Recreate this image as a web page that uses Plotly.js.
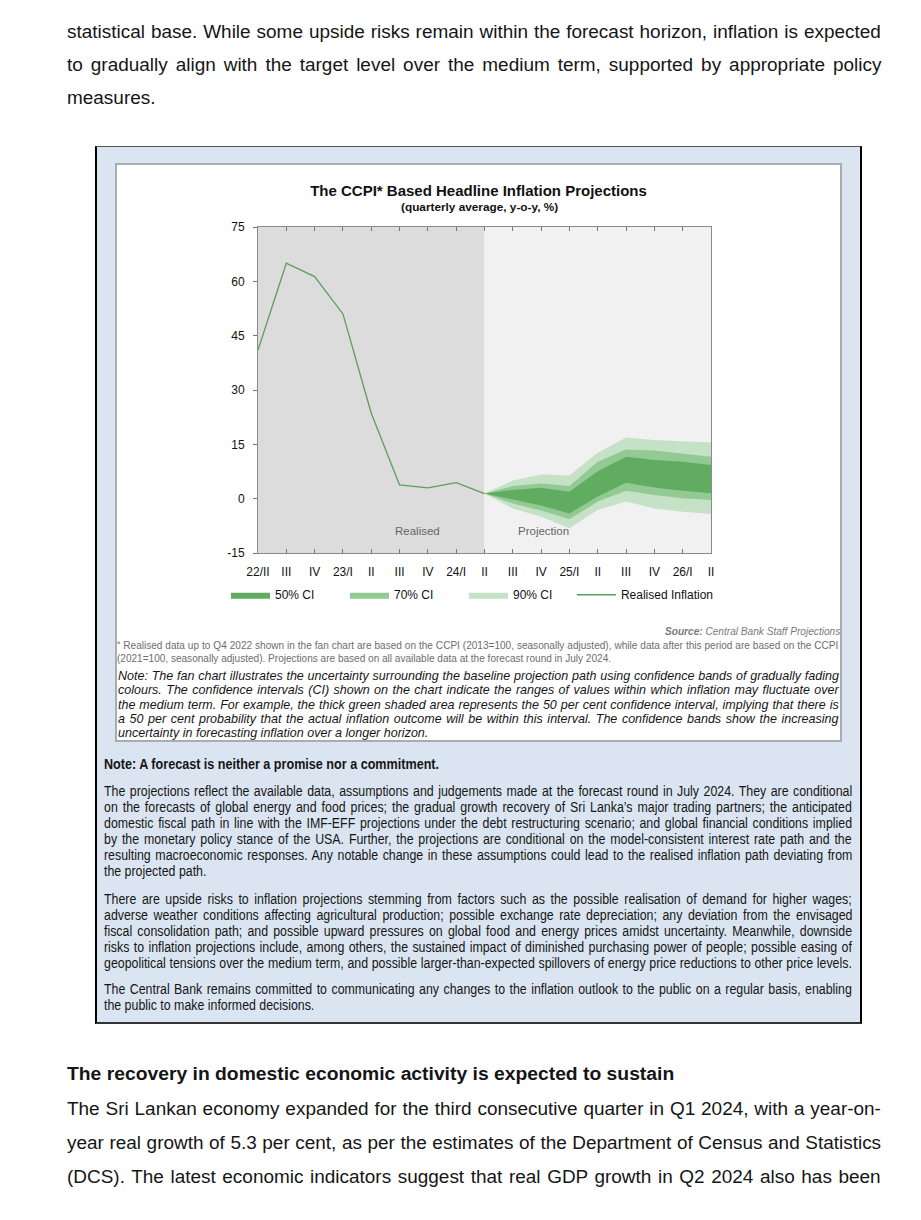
<!DOCTYPE html>
<html>
<head>
<meta charset="utf-8">
<script src="https://cdn.plot.ly/plotly-3.0.1.min.js"></script>
<style>
  html, body { margin:0; padding:0; background:#fff; }
  body { width:921px; height:1220px; position:relative; overflow:hidden; font-family:"Liberation Sans", Arial, sans-serif; color:#111; }
  .ln { position:absolute; white-space:nowrap; transform-origin:0 50%; }
  .body17 { font-size:17px; line-height:22px; color:#151515; }
  .nar { font-size:12.5px; line-height:15px; color:#151515; }
  .foot { font-size:9.5px; line-height:12px; color:#6d6d6d; }
  .note { font-size:11.5px; line-height:14px; font-style:italic; color:#161616; }
  #box { position:absolute; left:95px; top:146px; width:767px; height:878px; box-sizing:border-box;
         background:#dbe5f1; border-left:2px solid #000; border-right:2px solid #000; border-top:1px solid #555; border-bottom:2px solid #333; }
  #panel { position:absolute; left:115px; top:163px; width:727px; height:579px; box-sizing:border-box;
           background:#fff; border:2px solid #a9adb2; }
  #chart { position:absolute; left:115px; top:163px; width:727px; height:460px; }
</style>
</head>
<body>
<!-- top body text -->
<div class="ln body17" data-g="body" data-x0="67" data-x1="881" data-y="32" data-m="j">statistical base. While some upside risks remain within the forecast horizon, inflation is expected</div>
<div class="ln body17" data-g="body" data-x0="67" data-x1="881" data-y="65" data-m="j">to gradually align with the target level over the medium term, supported by appropriate policy</div>
<div class="ln body17" data-g="body" data-x0="67" data-x1="157" data-y="98" data-m="n">measures.</div>

<div id="box"></div>
<div id="panel"></div>
<div id="chart"></div>

<!-- source & footnote -->
<div class="ln foot" data-g="foot" data-x0="665" data-x1="840" data-y="632" data-m="f" style="font-style:italic;color:#7a7a7a;"><b>Source:</b> Central Bank Staff Projections</div>
<div class="ln foot" data-g="foot" data-x0="117" data-x1="838" data-y="646" data-m="j"><span style="font-size:85%;position:relative;top:-2px;">*</span> Realised data up to Q4 2022 shown in the fan chart are based on the CCPI (2013=100, seasonally adjusted), while data after this period are based on the CCPI</div>
<div class="ln foot" data-g="foot" data-x0="117" data-x1="614" data-y="659" data-m="n">(2021=100, seasonally adjusted). Projections are based on all available data at the forecast round in July 2024.</div>

<!-- italic note -->
<div class="ln note" data-g="note" data-x0="118" data-x1="839" data-y="676" data-m="j">Note: The fan chart illustrates the uncertainty surrounding the baseline projection path using confidence bands of gradually fading</div>
<div class="ln note" data-g="note" data-x0="118" data-x1="839" data-y="690" data-m="j">colours. The confidence intervals (CI) shown on the chart indicate the ranges of values within which inflation may fluctuate over</div>
<div class="ln note" data-g="note" data-x0="118" data-x1="839" data-y="705" data-m="j">the medium term. For example, the thick green shaded area represents the 50 per cent confidence interval, implying that there is</div>
<div class="ln note" data-g="note" data-x0="118" data-x1="839" data-y="719" data-m="j">a 50 per cent probability that the actual inflation outcome will be within this interval. The confidence bands show the increasing</div>
<div class="ln note" data-g="note" data-x0="118" data-x1="430" data-y="733" data-m="n">uncertainty in forecasting inflation over a longer horizon.</div>

<!-- blue box text -->
<div class="ln nar" data-g="blue" data-x0="104" data-x1="439" data-y="763" data-m="f" style="font-weight:bold;">Note: A forecast is neither a promise nor a commitment.</div>

<div class="ln nar" data-g="blue" data-x0="104" data-x1="852" data-y="790" data-m="j">The projections reflect the available data, assumptions and judgements made at the forecast round in July 2024. They are conditional</div>
<div class="ln nar" data-g="blue" data-x0="104" data-x1="852" data-y="806" data-m="j">on the forecasts of global energy and food prices; the gradual growth recovery of Sri Lanka’s major trading partners; the anticipated</div>
<div class="ln nar" data-g="blue" data-x0="104" data-x1="852" data-y="822" data-m="j">domestic fiscal path in line with the IMF-EFF projections under the debt restructuring scenario; and global financial conditions implied</div>
<div class="ln nar" data-g="blue" data-x0="104" data-x1="852" data-y="838" data-m="j">by the monetary policy stance of the USA. Further, the projections are conditional on the model-consistent interest rate path and the</div>
<div class="ln nar" data-g="blue" data-x0="104" data-x1="852" data-y="854" data-m="j">resulting macroeconomic responses. Any notable change in these assumptions could lead to the realised inflation path deviating from</div>
<div class="ln nar" data-g="blue" data-x0="104" data-x1="196" data-y="870" data-m="n">the projected path.</div>

<div class="ln nar" data-g="blue" data-x0="104" data-x1="852" data-y="898" data-m="j">There are upside risks to inflation projections stemming from factors such as the possible realisation of demand for higher wages;</div>
<div class="ln nar" data-g="blue" data-x0="104" data-x1="852" data-y="914" data-m="j">adverse weather conditions affecting agricultural production; possible exchange rate depreciation; any deviation from the envisaged</div>
<div class="ln nar" data-g="blue" data-x0="104" data-x1="852" data-y="930" data-m="j">fiscal consolidation path; and possible upward pressures on global food and energy prices amidst uncertainty. Meanwhile, downside</div>
<div class="ln nar" data-g="blue" data-x0="104" data-x1="852" data-y="946" data-m="j">risks to inflation projections include, among others, the sustained impact of diminished purchasing power of people; possible easing of</div>
<div class="ln nar" data-g="blue" data-x0="104" data-x1="852" data-y="962" data-m="j">geopolitical tensions over the medium term, and possible larger-than-expected spillovers of energy price reductions to other price levels.</div>

<div class="ln nar" data-g="blue" data-x0="104" data-x1="852" data-y="988" data-m="j">The Central Bank remains committed to communicating any changes to the inflation outlook to the public on a regular basis, enabling</div>
<div class="ln nar" data-g="blue" data-x0="104" data-x1="318" data-y="1004" data-m="n">the public to make informed decisions.</div>

<!-- bottom body text -->
<div class="ln body17" data-g="body" data-x0="67" data-x1="674" data-y="1074" data-m="f" style="font-weight:bold;">The recovery in domestic economic activity is expected to sustain</div>
<div class="ln body17" data-g="body" data-x0="67" data-x1="881" data-y="1109" data-m="j">The Sri Lankan economy expanded for the third consecutive quarter in Q1 2024, with a year-on-</div>
<div class="ln body17" data-g="body" data-x0="67" data-x1="881" data-y="1143" data-m="j">year real growth of 5.3 per cent, as per the estimates of the Department of Census and Statistics</div>
<div class="ln body17" data-g="body" data-x0="67" data-x1="881" data-y="1177" data-m="j">(DCS). The latest economic indicators suggest that real GDP growth in Q2 2024 also has been</div>

<script>
// ---------------- DATA ----------------
const quarterLabels = ['22/II','III','IV','23/I','II','III','IV','24/I','II','III','IV','25/I','II','III','IV','26/I','II'];
const realisedQuarterIdx = [0,1,2,3,4,5,6,7,8];
const realisedInflation = [41.0, 65.0, 61.3, 51.0, 23.6, 3.8, 3.0, 4.4, 1.4];
const projectionQuarterIdx = [8,9,10,11,12,13,14,15,16];
const ci90Upper = [1.4, 5.0, 6.7, 6.4, 12.7, 16.9, 16.2, 15.8, 15.5];
const ci70Upper = [1.4, 3.5, 4.2, 3.5, 10.2, 13.6, 13.3, 12.5, 11.6];
const ci50Upper = [1.4, 2.4, 3.0, 1.9, 7.6, 11.6, 10.7, 10.2, 9.3];
const ci50Lower = [1.4, -0.2, -1.9, -4.1, 0.6, 4.4, 3.1, 2.2, 1.5];
const ci70Lower = [1.4, -1.3, -3.3, -5.7, -0.8, 2.2, 1.0, 0.1, -0.4];
const ci90Lower = [1.4, -2.7, -5.0, -8.2, -3.1, -0.8, -2.7, -3.6, -4.2];
const yTicks = [-15, 0, 15, 30, 45, 60, 75];
const yTickLabels = ['-15', '0', '15', '30', '45', '60', '75'];

// ---------------- CHART ----------------
const FONT = '"Liberation Sans", Arial, sans-serif';
const C90 = '#c6e2c6', C70 = '#93c993', C50 = '#60ad61', CLINE = '#5b9e5b';

function band(lower, upper, color, name, rank){
  return [
    {x: projectionQuarterIdx, y: lower, type:'scatter', mode:'lines', line:{width:0, color:color},
     showlegend:false, hoverinfo:'skip'},
    {x: projectionQuarterIdx, y: upper, type:'scatter', mode:'lines', line:{width:0, color:color},
     fill:'tonexty', fillcolor:color, name:name, legendrank:rank, hoverinfo:'skip'}
  ];
}

const traces = [].concat(
  band(ci90Lower, ci90Upper, C90, '90% CI', 3),
  band(ci70Lower, ci70Upper, C70, '70% CI', 2),
  band(ci50Lower, ci50Upper, C50, '50% CI', 1),
  [{x: realisedQuarterIdx, y: realisedInflation, type:'scatter', mode:'lines',
    line:{width:1.3, color:CLINE}, name:'Realised Inflation', legend:'legend2'}]
);

const idx = quarterLabels.map((_, i) => i);
const legendCommon = {orientation:'h', xanchor:'left', y:-0.128, yanchor:'middle',
  traceorder:'normal', itemwidth:39, bgcolor:'rgba(0,0,0,0)', borderwidth:0,
  font:{family:FONT, size:12, color:'#111'}, itemclick:false, itemdoubleclick:false};

const layout = {
  width: 727, height: 460,
  margin: {l:143, r:131, t:64, b:70, pad:0},
  paper_bgcolor:'rgba(0,0,0,0)', plot_bgcolor:'rgba(0,0,0,0)',
  font:{family:FONT, size:12, color:'#111'},
  title:{text:'<b>The CCPI* Based Headline Inflation Projections</b>', font:{family:FONT, size:15, color:'#111'},
         x:0.5, xref:'container', xanchor:'center', y:0.939, yref:'container', yanchor:'middle'},
  xaxis:{range:[0,16], tickmode:'array', tickvals:idx, ticktext:quarterLabels,
         ticks:'inside', ticklen:4, tickcolor:'#777', tickwidth:1,
         showline:true, linecolor:'#8a8a8a', linewidth:1, mirror:'ticks',
         showgrid:false, zeroline:false, tickfont:{family:FONT, size:12, color:'#111'},
         ticklabelstandoff:8, fixedrange:true},
  yaxis:{range:[-15,75], tickmode:'array', tickvals:yTicks, ticktext:yTickLabels,
         ticks:'outside', ticklen:4, tickcolor:'#777', tickwidth:1,
         showline:true, linecolor:'#8a8a8a', linewidth:1, mirror:true,
         showgrid:false, zeroline:false, tickfont:{family:FONT, size:12, color:'#111'},
         ticklabelstandoff:6, fixedrange:true},
  yaxis2:{range:[-15,75], overlaying:'y', side:'right', anchor:'x', tickmode:'array', tickvals:yTicks,
         ticks:'inside', ticklen:4, tickcolor:'#777', showticklabels:false, showline:false,
         showgrid:false, zeroline:false, fixedrange:true},
  shapes:[
    {type:'rect', xref:'x', yref:'paper', x0:0, x1:8, y0:0, y1:1, fillcolor:'#dcdcdc', line:{width:0}, layer:'below'},
    {type:'rect', xref:'x', yref:'paper', x0:8, x1:16, y0:0, y1:1, fillcolor:'#f1f1f1', line:{width:0}, layer:'below'}
  ],
  annotations:[
    {text:'<b>(quarterly average, y-o-y, %)</b>', xref:'paper', yref:'paper', x:0.490, y:1.0613,
     xanchor:'center', yanchor:'middle', showarrow:false, font:{family:FONT, size:11.8, color:'#111'}},
    {text:'Realised', xref:'x', yref:'y', x:5.65, y:-8.9, xanchor:'center', yanchor:'middle',
     showarrow:false, font:{family:FONT, size:11.5, color:'#666'}},
    {text:'Projection', xref:'x', yref:'y', x:10.07, y:-8.9, xanchor:'center', yanchor:'middle',
     showarrow:false, font:{family:FONT, size:11.5, color:'#666'}}
  ],
  showlegend:true,
  legend:Object.assign({}, legendCommon, {x:-0.0706, entrywidth:65, entrywidthmode:'pixels'}),
  legend2:Object.assign({}, legendCommon, {x:0.693})
};

Plotly.newPlot('chart', traces, layout, {staticPlot:true, displayModeBar:false});

// ---------------- TEXT LAYOUT ----------------
function narrowAvailable(){
  const s = document.createElement('span');
  s.textContent = 'abcdefghijklmnopqrstuvwxyz';
  s.style.cssText = 'position:absolute;visibility:hidden;font-size:40px;white-space:nowrap;font-family:monospace';
  document.body.appendChild(s);
  const w1 = s.offsetWidth;
  s.style.fontFamily = '"Liberation Sans Narrow", monospace';
  const w2 = s.offsetWidth;
  s.remove();
  return Math.abs(w1 - w2) > 2;
}
function fitLines(){
  const narrowOK = narrowAvailable();
  const lines = Array.from(document.querySelectorAll('.ln'));
  const baseSx = el => (el.classList.contains('nar') && !narrowOK) ? 0.82 : 1;
  lines.forEach(el => {
    if (el.classList.contains('nar')) {
      el.style.fontFamily = narrowOK ? '"Liberation Sans Narrow", "Liberation Sans", sans-serif' : '"Liberation Sans", sans-serif';
    }
    el.style.wordSpacing = '0px';
  });
  const groups = {};
  lines.forEach(el => { (groups[el.dataset.g] = groups[el.dataset.g] || []).push(el); });
  Object.values(groups).forEach(g => {
    let r = Infinity;
    g.forEach(el => {
      if (el.dataset.m === 'j') {
        const tw = (+el.dataset.x1 - +el.dataset.x0) / baseSx(el);
        r = Math.min(r, tw / el.offsetWidth);
      }
    });
    if (isFinite(r)) {
      g.forEach(el => {
        const fs = parseFloat(getComputedStyle(el).fontSize);
        el.style.fontSize = (fs * r * 0.995) + 'px';
      });
    }
  });
  lines.forEach(el => {
    let sx = baseSx(el);
    const x0 = +el.dataset.x0, x1 = +el.dataset.x1, yc = +el.dataset.y;
    const tw = x1 - x0;
    const lh = parseFloat(getComputedStyle(el).lineHeight) || 16;
    el.style.left = x0 + 'px';
    el.style.top = (yc - lh / 2) + 'px';
    const w = el.offsetWidth;
    const mode = el.dataset.m;
    if (mode === 'j') {
      const n = (el.textContent.match(/ /g) || []).length;
      const need = tw / sx - w;
      if (need >= 0 && n > 0) el.style.wordSpacing = (need / n) + 'px';
      else sx = tw / w;
    } else if (mode === 'f') {
      sx = tw / w;
    }
    el.style.transform = 'scaleX(' + sx + ')';
  });
}
fitLines();
</script>
</body>
</html>
